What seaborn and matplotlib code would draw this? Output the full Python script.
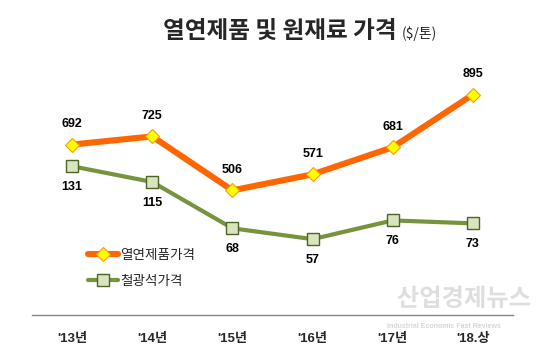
import numpy as np
import pandas as pd
import matplotlib
matplotlib.use("Agg")
import matplotlib.pyplot as plt
import matplotlib.patheffects as pe
from matplotlib.ticker import FixedLocator, NullFormatter
import seaborn as sns

categories = ["'13년", "'14년", "'15년", "'16년", "'17년", "'18.상"]
hot_rolled = [692, 725, 506, 571, 681, 895]
iron_ore = [131, 115, 68, 57, 76, 73]
series_names = ["열연제품가격", "철광석가격"]
title_main = "열연제품 및 원재료 가격"
title_unit = "($/톤)"

sns.set_style("white")
plt.rcParams["font.family"] = ["Liberation Sans", "Noto Sans CJK KR", "DejaVu Sans"]
CJK = ["Noto Sans CJK KR", "DejaVu Sans"]
NUM = ["Liberation Sans", "Noto Sans CJK KR"]

W, H = 559, 349
fig = plt.figure(figsize=(W / 100, H / 100), dpi=100)
ax = fig.add_axes([32 / W, 1 - 315 / H, (513 - 32) / W, (315 - 68.7) / H])
ax2 = ax.twinx()

pos = np.arange(len(categories))
df = pd.DataFrame({"pos": pos, "hot": hot_rolled, "ore": iron_ore})

orange = "#FF6600"
green = "#77933C"

sns.lineplot(data=df, x="pos", y="hot", ax=ax, color=orange, linewidth=4.4,
             marker="D", markersize=7.6, markerfacecolor="#FFFF00",
             markeredgecolor="#FF9900", markeredgewidth=0.8,
             label=series_names[0], legend=False, zorder=3)
sns.lineplot(data=df, x="pos", y="ore", ax=ax2, color=green, linewidth=3.0,
             marker="s", markersize=8.8, markerfacecolor="#D7E4BD",
             markeredgecolor="#4F6228", markeredgewidth=1.0,
             label=series_names[1], legend=False, zorder=3)

ax.set_ylim(0, 1000)
ax2.set_ylim(-20, 230)
ax.set_xlim(-0.5, len(categories) - 0.5)

for x, v in zip(pos, hot_rolled):
    ax.annotate(str(v), (x, v), xytext=(0, 14.5), textcoords="offset points",
                ha="center", va="center", fontsize=9, fontweight="bold",
                family=NUM, color="black")
for x, v in zip(pos, iron_ore):
    ax2.annotate(str(v), (x, v), xytext=(0, -15), textcoords="offset points",
                 ha="center", va="center", fontsize=9, fontweight="bold",
                 family=NUM, color="black")

for a in (ax, ax2):
    for s in ["top", "right", "left"]:
        a.spines[s].set_visible(False)
    a.set_yticks([])
    a.set_ylabel("")
    a.set_xlabel("")
ax2.spines["bottom"].set_visible(False)
ax.spines["bottom"].set_color("#868686")
ax.spines["bottom"].set_linewidth(1.0)

ax.set_xticks(pos)
ax.set_xticklabels(categories, fontsize=9.5, fontweight="bold", family=NUM)
ax.tick_params(axis="x", which="major", length=0, pad=13)
ax.xaxis.set_minor_locator(FixedLocator(np.arange(-0.5, len(categories), 1.0)))
ax.xaxis.set_minor_formatter(NullFormatter())
ax.tick_params(axis="x", which="minor", length=3.5, width=1.0, color="#868686",
               direction="out")

h1, l1 = ax.get_legend_handles_labels()
h2, l2 = ax2.get_legend_handles_labels()
fig.legend(h1 + h2, l1 + l2, loc="upper left",
           bbox_to_anchor=(88 / W, 1 - 248 / H), frameon=False,
           prop={"family": CJK, "size": 9.8}, handlelength=2.2,
           handletextpad=0.15, labelspacing=0.9, borderpad=0, borderaxespad=0)

fig.text(163 / W, 1 - 31 / H, title_main, ha="left", va="center",
         fontsize=17, fontweight="bold", family=CJK)
fig.text(402 / W, 1 - 34 / H, title_unit, ha="left", va="center",
         fontsize=10, family=CJK)

wm = fig.text(464 / W, 1 - 299 / H, "산업경제뉴스", ha="center", va="center",
              fontsize=17.5, fontweight="bold", family=CJK, color="#dedede",
              zorder=10)
wm.set_path_effects([pe.withStroke(linewidth=2, foreground="white")])
wm2 = fig.text(444 / W, 1 - 326 / H, "Industrial Economic Fast Reviews",
               ha="center", va="center", fontsize=5, fontweight="bold",
               family=NUM, color="#d6d6d6", zorder=10)

fig.savefig("out.png", dpi=100)
